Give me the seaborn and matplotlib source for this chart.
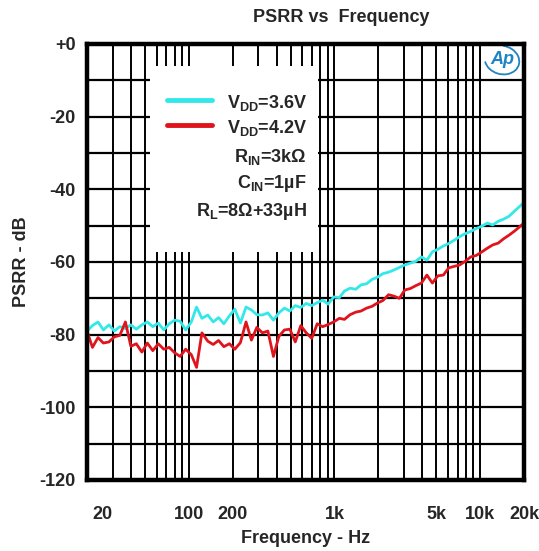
import numpy as np
import pandas as pd
import matplotlib
matplotlib.use("Agg")
import matplotlib.pyplot as plt
import matplotlib.ticker as mticker
from matplotlib.patches import Rectangle, Arc
import matplotlib.transforms as mtransforms
import seaborn as sns

# measurement frequencies (Hz), 1/8 octave steps
freq = [20, 21.8, 23.8, 25.9, 28.3, 30.8, 33.6, 36.7, 40, 43.6, 47.6, 51.9, 56.6, 61.7,
        67.3, 73.4, 80, 87.2, 95.1, 104, 113, 123, 135, 147, 160, 174, 190, 207, 226,
        247, 269, 293, 320, 349, 381, 415, 453, 494, 538, 587, 640, 698, 761, 830, 905,
        987, 1080, 1170, 1280, 1400, 1520, 1660, 1810, 1970, 2150, 2350, 2560, 2790,
        3040, 3320, 3620, 3950, 4310, 4700, 5120, 5590, 6090, 6640, 7240, 7900, 8610,
        9390, 10200, 11200, 12200, 13300, 14500, 15800, 17200, 18800, 20000]

psrr_36 = [-79, -77.5, -76.5, -78.7, -77.3, -79, -77.8, -78.3, -77.3, -78.5, -77.3, -76.5,
           -77.8, -76.8, -78.7, -77, -76, -76.3, -78.7, -76.5, -72.4, -75.5, -74.6, -76.5,
           -75.3, -77, -74.8, -73, -76.8, -72.4, -73.2, -74.5, -74.6, -74, -76, -74,
           -72.7, -73.5, -72, -72.5, -71.4, -72, -71.2, -70.5, -71.6, -69.6, -69.8, -68,
           -67.2, -67.5, -66.3, -66, -64.8, -64.2, -63.2, -62.8, -62.2, -61.5, -60.8,
           -60.3, -59.8, -58.6, -59.5, -57.2, -56.5, -55.6, -54.9, -54, -53, -52.2, -51.6,
           -50.8, -50.2, -49.3, -49.8, -48.8, -48.2, -47.4, -46, -44.6, -43.6]

psrr_42 = [-79, -83.5, -80.8, -82.3, -82, -80.6, -80.2, -76.5, -83.2, -82.5, -84.8, -82.3,
           -84.4, -82.5, -84, -83.5, -85, -86, -84, -85.5, -89, -79.5, -81.8, -82.7,
           -81.6, -83.3, -82.5, -84, -82.2, -76.5, -81.5, -78, -79.5, -79, -86, -80.5,
           -78.7, -78.5, -82, -77.5, -79.5, -81, -77, -77.8, -77.2, -76.5, -75.5, -75.8,
           -74.5, -73.8, -73.5, -72.7, -72.2, -71.3, -70.6, -69, -69.4, -70, -67.7, -67.3,
           -66.5, -65.8, -63.6, -65.8, -63.8, -63.6, -61.6, -61.2, -60.8, -59.8, -58.6,
           -58.2, -57.3, -56.2, -55.3, -54.8, -53.6, -52.6, -51.5, -50.2, -49.3]

series_names = ["VDD=3.6V", "VDD=4.2V"]
legend_lines = [r"V$_\mathbf{DD}$=3.6V", r"V$_\mathbf{DD}$=4.2V"]
legend_notes = [r"R$_\mathbf{IN}$=3kΩ", r"C$_\mathbf{IN}$=1µF", r"R$_\mathbf{L}$=8Ω+33µH"]
x_ticks = [20, 100, 200, 1000, 5000, 10000, 20000]
x_labels = ["20", "100", "200", "1k", "5k", "10k", "20k"]

df = pd.DataFrame({
    "freq": freq * 2,
    "psrr": psrr_36 + psrr_42,
    "cond": [series_names[0]] * len(freq) + [series_names[1]] * len(freq),
})

sns.set_style("white")
plt.rcParams["font.family"] = ["Liberation Sans", "DejaVu Sans"]
plt.rcParams["font.weight"] = "bold"
plt.rcParams["mathtext.fontset"] = "custom"
plt.rcParams["mathtext.bf"] = "Liberation Sans:bold"
plt.rcParams["mathtext.rm"] = "Liberation Sans:bold"
plt.rcParams["mathtext.it"] = "Liberation Sans:bold"

colors = {series_names[0]: "#33e8e8", series_names[1]: "#e0141c"}
fs = 13

fig = plt.figure(figsize=(5.39, 5.51), dpi=100)
ax = fig.add_axes([87 / 539, 1 - 480 / 551, 437 / 539, 436 / 551])

sns.lineplot(data=df, x="freq", y="psrr", hue="cond", palette=colors,
             linewidth=2.0, legend=False, ax=ax, zorder=4)

ax.set_xscale("log")
ax.set_xlim(20, 20000)
ax.set_ylim(-120, 0)

ax.xaxis.set_major_locator(mticker.FixedLocator(x_ticks))
ax.xaxis.set_major_formatter(mticker.FixedFormatter(x_labels))
minor_x = [m * 10 ** k for k in range(1, 5) for m in range(1, 10) if 20 <= m * 10 ** k <= 20000]
ax.xaxis.set_minor_locator(mticker.FixedLocator(minor_x))
ax.xaxis.set_minor_formatter(mticker.NullFormatter())

ax.yaxis.set_major_locator(mticker.MultipleLocator(10))
ax.yaxis.set_minor_locator(mticker.MultipleLocator(2))
ax.yaxis.set_major_formatter(mticker.FuncFormatter(
    lambda v, p: ("+0" if abs(v) < 0.1 else "%d" % v) if int(round(v)) % 20 == 0 else ""))

ax.tick_params(axis="x", which="both", length=0, pad=19, labelsize=fs)
ax.tick_params(axis="y", which="major", direction="in", length=6, width=1.5, pad=8, labelsize=fs)
ax.tick_params(axis="y", which="minor", direction="in", length=4, width=1.5)

ax.set_axisbelow(True)
ax.grid(True, axis="x", which="both", color="black", linewidth=1.4)
ax.grid(True, axis="y", which="major", color="black", linewidth=1.6)

for s in ax.spines.values():
    s.set_linewidth(3.2)
    s.set_color("black")
    s.set_zorder(6)

# shift first x label right, as in the original
lbl0 = ax.get_xticklabels()[0]
lbl0.set_transform(lbl0.get_transform() + mtransforms.ScaledTranslation(15 / 100, 0, fig.dpi_scale_trans))

ax.set_xlabel("Frequency - Hz", fontsize=fs, fontweight="bold", labelpad=5)
ax.set_ylabel("PSRR - dB", fontsize=fs, fontweight="bold", labelpad=7)
fig.text(341 / 539, 1 - 17 / 551, "PSRR vs  Frequency", ha="center", va="center",
         fontsize=fs, fontweight="bold")

# white legend panel
def px(x, y):
    return (x - 87) / 437, (480 - y) / 436

x0, y0 = px(150, 252)
x1, y1 = px(318, 66)
ax.add_patch(Rectangle((x0, y0), x1 - x0, y1 - y0, transform=ax.transAxes,
                       facecolor="white", edgecolor="none", zorder=3))

for i, (name, txt) in enumerate(zip(series_names, legend_lines)):
    ly = [100, 125][i]
    a, b = px(167, ly)
    c, _ = px(212, ly)
    ax.plot([a, c], [b, b], transform=ax.transAxes, color=colors[name],
            linewidth=3.5, solid_capstyle="round", zorder=5)
    tx, ty = px(307, ly + 3)
    ax.text(tx, ty, txt, transform=ax.transAxes, ha="right", va="center",
            fontsize=fs, zorder=5)
for j, txt in enumerate(legend_notes):
    tx, ty = px(307, [157, 183, 211][j])
    ax.text(tx, ty, txt, transform=ax.transAxes, ha="right", va="center",
            fontsize=fs, zorder=5)

# logo in top-right corner
lx, ly = px(502, 60)
ax.text(lx, ly, "Ap", transform=ax.transAxes, ha="center", va="center", fontsize=13,
        fontstyle="italic", fontweight="bold", color="#1f84c4", zorder=5)
ax.add_patch(Arc((lx, ly), 0.08, 0.065, angle=-15, theta1=200, theta2=100,
                 transform=ax.transAxes, color="#1f84c4", linewidth=1.3, zorder=5))

fig.savefig("out.png", dpi=100)
